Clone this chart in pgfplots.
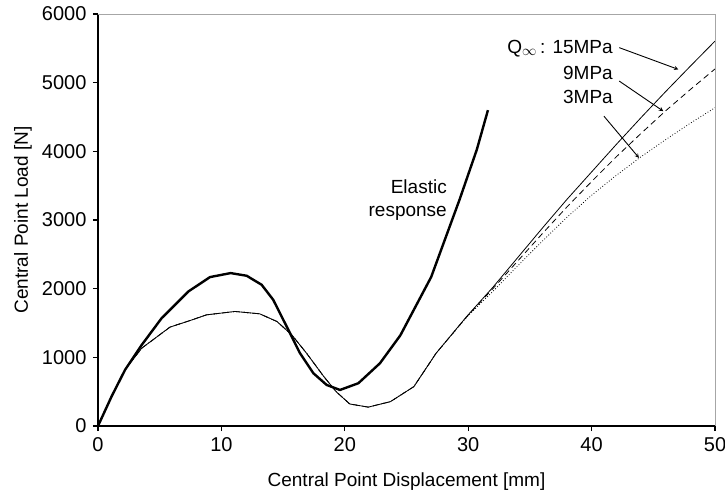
\documentclass[border=0pt]{standalone}
\usepackage{pgfplots}
\pgfplotsset{compat=1.18}
\usepackage{fontspec}
\setmainfont{Liberation Sans}
\newcommand{\ff}{\fontsize{19}{23}\selectfont}
\newcommand{\ft}{\fontsize{20}{24}\selectfont}
\begin{document}
\begin{tikzpicture}[x=1pt,y=1pt]
\useasboundingbox (-98,-73) rectangle (627,426);
\begin{axis}[
  at={(0,0)}, anchor=south west,
  scale only axis, width=617pt, height=412pt,
  xmin=0, xmax=50, ymin=0, ymax=6000,
  xtick={0,10,...,50}, ytick={0,1000,...,6000},
  axis x line*=bottom, axis y line*=left,
  axis line style={black, line width=1.3pt, -},
  tick align=outside, major tick length=5pt,
  every tick/.style={black, line width=1.1pt},
  /pgf/number format/assume math mode=true,
  /pgf/number format/set thousands separator={},
  tick label style={font=\ft},
  xticklabel style={yshift=-3pt},
  yticklabel style={xshift=-3pt},
  xlabel={Central Point Displacement [mm]},
  ylabel={Central Point Load [N]},
  label style={font=\ff},
  xlabel style={at={(axis description cs:0.5,0)}, anchor=center, yshift=-56pt},
  ylabel style={at={(axis description cs:0,0.5)}, anchor=center, yshift=75pt},
  clip=false,
]
% Elastic response (thick)
\addplot[black, line width=2.4pt, line join=round] coordinates {
(0,0) (1.1,430) (2.2,820) (3.5,1170) (5.16,1571) (7.32,1959) (9.08,2169)
(10.75,2227) (12.05,2188) (13.26,2057) (14.2,1838) (15.29,1449) (16.37,1060)
(17.45,769) (18.53,598) (19.61,525) (21.1,623) (22.85,914) (24.5,1320)
(27.0,2170) (29.3,3297) (30.7,4026) (31.6,4600)
};
% 3 MPa (dotted)
\addplot[black, line width=0.8pt, dotted] coordinates {
(0,0) (1.1,430) (2.2,820) (3.54,1133) (5.83,1440) (7.46,1536) (8.8,1619)
(11.1,1668) (13.1,1634) (14.5,1522) (15.7,1328) (16.9,1060) (18.3,720)
(19.3,500) (20.4,321) (21.9,275) (23.7,355) (25.6,574) (27.4,1060) (29.9,1590)
(32,1960) (34,2330) (36,2690) (38,3040) (40,3360) (42,3650) (44,3920)
(46,4170) (48,4410) (50,4635)
};
% 9 MPa (dashed)
\addplot[black, line width=0.8pt, dash pattern=on 6pt off 4pt] coordinates {
(0,0) (1.1,430) (2.2,820) (3.54,1133) (5.83,1440) (7.46,1536) (8.8,1619)
(11.1,1668) (13.1,1634) (14.5,1522) (15.7,1328) (16.9,1060) (18.3,720)
(19.3,500) (20.4,321) (21.9,275) (23.7,355) (25.6,574) (27.4,1060) (29.9,1595)
(32,2000) (34,2400) (36,2800) (38,3190) (40,3560) (42,3920) (44,4260)
(46,4590) (48,4900) (50,5200)
};
% 15 MPa (solid)
\addplot[black, line width=0.8pt] coordinates {
(0,0) (1.1,430) (2.2,820) (3.54,1133) (5.83,1440) (7.46,1536) (8.8,1619)
(11.1,1668) (13.1,1634) (14.5,1522) (15.7,1328) (16.9,1060) (18.3,720)
(19.3,500) (20.4,321) (21.9,275) (23.7,355) (25.6,574) (27.4,1060) (29.9,1600)
(32,2020) (34,2450) (36,2880) (38,3300) (40,3700) (42,4100) (44,4490)
(46,4870) (48,5240) (50,5605)
};
% top and right frame
\draw[gray!70, line width=1pt] (axis cs:0,6000) -- (axis cs:50,6000) -- (axis cs:50,0);
% annotations
\node[anchor=base east, inner sep=0pt, font=\ff] at (axis cs:41.73,5427) {Q$_{\infty}$\,: 15MPa};
\node[anchor=base east, inner sep=0pt, font=\ff] at (axis cs:41.73,5047) {9MPa};
\node[anchor=base east, inner sep=0pt, font=\ff] at (axis cs:41.73,4700) {3MPa};
\draw[-stealth, line width=0.9pt] (axis cs:42.24,5510) -- (axis cs:47.03,5193);
\draw[-stealth, line width=0.9pt] (axis cs:42.24,5023) -- (axis cs:45.81,4585);
\draw[-stealth, line width=0.9pt] (axis cs:41.0,4512) -- (axis cs:43.84,3905);
\node[anchor=base east, inner sep=0pt, font=\ff] at (axis cs:28.28,3384) {Elastic};
\node[anchor=base east, inner sep=0pt, font=\ff] at (axis cs:28.28,3049) {response};
\end{axis}
\end{tikzpicture}
\end{document}
